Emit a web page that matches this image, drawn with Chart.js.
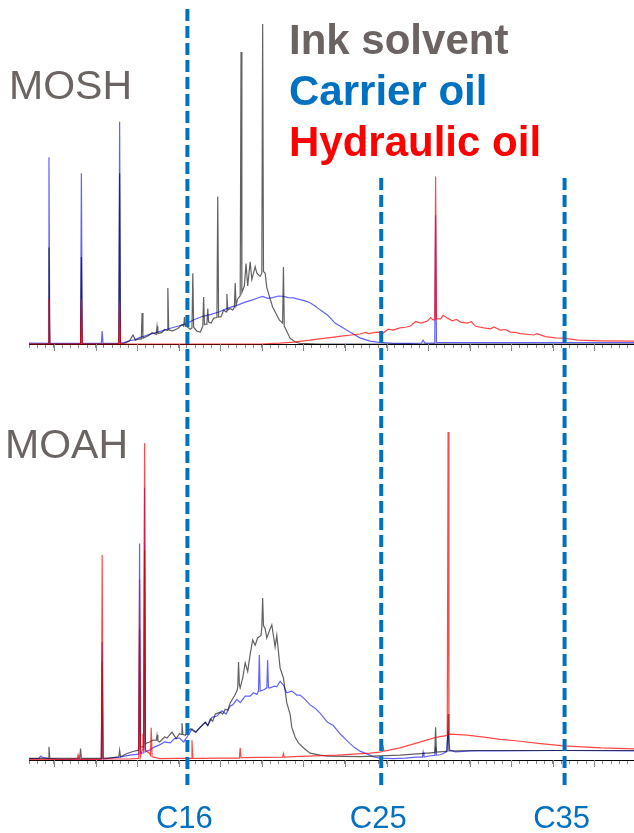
<!DOCTYPE html>
<html>
<head>
<meta charset="utf-8">
<script src="https://cdn.jsdelivr.net/npm/chart.js@4.4.1/dist/chart.umd.min.js"></script>
<style>
  body { margin: 0; background: #fff; }
  #wrap { position: relative; width: 634px; height: 833px; overflow: hidden; font-family: "Liberation Sans", Arial, sans-serif; }
  canvas { position: absolute; left: 0; top: 0; }
  .lbl { position: absolute; white-space: nowrap; line-height: 1; }
  .group { font-size: 41px; color: #6b6462; }
  .legend { font-size: 42px; font-weight: bold; left: 289px; }
  .carbon { font-size: 31px; color: #0070c0; top: 802px; transform: translateX(-50%); }
</style>
</head>
<body>
<div id="wrap">
  <canvas id="moshChart" width="636" height="833"></canvas>
  <canvas id="moahChart" width="636" height="833"></canvas>
  <div class="lbl group" style="left:9px;top:65px">MOSH</div>
  <div class="lbl group" style="left:5px;top:424px">MOAH</div>
  <div id="legend"></div>
  <div id="carbonLabels"></div>
</div>
<script>
// retention time [min] vs relative intensity [%]
const seriesNames = ['Ink solvent', 'Carrier oil', 'Hydraulic oil'];
const legendColors = ['#6b6462', '#0070c0', '#ff0000'];
const lineColors = ['rgba(0,0,0,0.62)', 'rgba(0,0,255,0.62)', 'rgba(255,0,0,0.72)'];

const carbonLabels = ['C16', 'C25', 'C35'];
const carbonTimes = [21.05, 44.36, 66.41];

const moshInk = [
  [2, 0], [4.3, 0], [4.4, 30], [4.5, 0], [8.2, 0], [8.3, 27], [8.4, 0], [12.8, 0], [12.9, 53], [13.0, 0],
  [13.5, 0.2], [14.1, 1.0], [14.5, 2.8], [14.8, 1.2], [15.2, 1.6], [15.5, 1.5], [15.6, 9.6], [15.7, 1.8],
  [16.3, 2.5], [16.8, 3.5], [17.3, 3.0], [17.4, 5.5], [17.5, 3.2], [18.0, 3.6], [18.3, 4.5], [18.6, 4.2],
  [18.7, 17.4], [18.8, 4.5], [19.2, 4.0], [19.9, 4.8], [20.4, 6.0], [20.6, 5.5], [20.7, 8.4], [20.8, 5.6],
  [21.1, 5.2], [21.4, 4.6], [21.6, 5.0], [21.7, 22.0], [21.8, 5.2], [22.2, 4.0], [22.6, 3.7], [22.9, 5.5],
  [23.0, 14.6], [23.1, 6.0], [23.3, 6.2], [23.4, 6.5], [23.5, 11.0], [23.6, 6.8], [23.9, 6.5], [24.2, 8.0],
  [24.6, 8.2], [24.7, 45.7], [24.8, 8.4], [25.1, 8.5], [25.4, 10.5], [25.7, 10.0], [25.8, 15.5], [25.9, 10.5],
  [26.2, 11.0], [26.5, 10.5], [26.7, 11.5], [26.8, 18.9], [26.9, 12.0], [27.1, 14.0], [27.4, 15.0],
  [27.5, 90.7], [27.6, 16.0], [27.9, 18.0], [28.1, 25.0], [28.3, 18.0], [28.6, 25.5], [28.8, 20.0],
  [29.2, 24.0], [29.4, 22.0], [29.8, 21.0], [30.0, 22.0], [30.1, 99.4], [30.2, 22.5], [30.4, 22.0],
  [30.6, 17.5], [31.0, 14.0], [31.3, 11.5], [31.7, 9.5], [32.1, 7.5], [32.5, 6.5], [32.6, 23.9], [32.7, 5.5],
  [32.9, 4.5], [33.4, 1.8], [34.0, 0.6], [34.6, 0.2], [37.0, 0], [75, 0]
];
const moshCarrier = [
  [2, 0.3], [4.3, 0.2], [4.4, 58], [4.5, 0.2], [8.2, 0.2], [8.3, 53], [8.4, 0.2], [10.7, 0.2], [10.8, 4.0],
  [10.9, 0.2], [12.8, 0.2], [12.9, 69], [13.0, 0.3], [13.5, 0.5], [14.1, 1.0], [14.7, 1.3], [15.3, 2.0],
  [16.1, 2.6], [16.9, 3.3], [17.9, 4.0], [19.0, 4.9], [20.0, 5.6], [21.0, 6.4], [21.9, 7.6], [22.9, 8.6],
  [23.9, 9.2], [24.9, 10.0], [26.0, 11.2], [27.0, 12.0], [28.0, 13.0], [28.9, 13.7], [29.5, 14.3],
  [30.1, 14.8], [30.7, 14.2], [31.3, 14.4], [32.0, 14.9], [32.6, 14.8], [33.2, 14.4], [33.8, 14.3],
  [34.6, 13.8], [35.2, 13.4], [35.8, 12.8], [36.4, 11.8], [37.0, 10.6], [37.9, 9.0], [38.8, 6.5],
  [39.8, 5.0], [40.6, 3.7], [41.8, 1.9], [43.0, 0.9], [43.9, 0.6], [45.8, 0.2], [47.9, 0.2], [49.2, 0.3],
  [49.4, 1.2], [49.6, 0.3], [50.8, 0.3], [50.9, 40], [51.0, 0.4], [52.0, 0.4], [75, 0.4]
];
const moshHydraulic = [
  [2, 0], [4.3, 0], [4.4, 14], [4.5, 0], [8.2, 0], [8.3, 14], [8.4, 0], [12.8, 0], [12.9, 13], [13.0, 0],
  [29.8, 0], [32.2, 0.3], [33.8, 0.6], [34.8, 0.9], [35.8, 1.2], [36.9, 1.6], [37.9, 1.9], [38.9, 2.2],
  [39.8, 2.5], [40.8, 2.8], [41.8, 3.1], [42.5, 3.6], [42.8, 3.2], [43.9, 3.7], [44.6, 3.4], [45.2, 4.6],
  [45.8, 4.3], [46.6, 5.0], [47.3, 5.2], [47.9, 5.6], [48.5, 7.0], [49.1, 6.5], [49.9, 7.1], [50.3, 8.2],
  [50.6, 7.5], [50.8, 7.5], [50.9, 52], [51.0, 7.8], [51.5, 7.8], [51.8, 8.9], [52.3, 8.1], [52.9, 7.2],
  [53.4, 7.6], [53.9, 6.8], [54.7, 6.5], [55.2, 6.9], [55.7, 5.5], [56.7, 5.0], [57.5, 4.7], [57.9, 5.3],
  [58.7, 4.3], [59.3, 4.5], [59.9, 3.7], [60.5, 3.6], [61.1, 3.2], [62.7, 2.8], [63.1, 3.2], [64.1, 2.3],
  [65.3, 1.9], [66.3, 1.8], [68.0, 1.2], [70.8, 1.0], [75, 0.9]
];

const moahInk = [
  [2, 0.5], [4.3, 0.5], [4.4, 4.0], [4.5, 0.5], [8.1, 0.5], [8.2, 3.5], [8.3, 0.5], [10.7, 0.5], [10.8, 30],
  [10.9, 0.6], [11.7, 0.6], [12.8, 1.0], [12.9, 3.0], [13.0, 1.0], [13.8, 2.0], [14.5, 2.6], [15.2, 3.0],
  [15.3, 40], [15.4, 4.0], [15.8, 4.0], [15.9, 64], [16.0, 5.0], [16.5, 5.5], [16.9, 6.1], [17.3, 6.0],
  [17.4, 7.6], [17.5, 5.8], [17.7, 5.5], [18.3, 7.0], [18.6, 6.7], [19.2, 8.5], [19.7, 6.5], [20.1, 8.0],
  [20.3, 7.8], [20.4, 11.3], [20.5, 7.8], [20.8, 7.5], [21.4, 9.5], [22.0, 8.5], [22.6, 10.0], [23.2, 11.5],
  [23.5, 10.5], [23.8, 12.5], [24.1, 11.8], [24.4, 14.0], [25.0, 14.6], [25.3, 14.0], [25.6, 15.5],
  [25.9, 15.2], [26.2, 17.4], [26.7, 19.5], [27.0, 21.0], [27.1, 22.0], [27.2, 29.9], [27.3, 23.0],
  [27.4, 22.0], [27.7, 25.0], [28.0, 29.6], [28.3, 27.0], [28.6, 32.3], [28.9, 36.6], [29.2, 35.0],
  [29.5, 37.2], [29.9, 38.0], [30.0, 40.5], [30.1, 49.4], [30.2, 41.0], [30.4, 40.0], [30.6, 37.2],
  [31.0, 40.0], [31.2, 41.2], [31.6, 34.5], [31.8, 38.0], [32.2, 28.0], [32.6, 25.0], [33.0, 17.4],
  [33.4, 14.0], [33.6, 10.0], [34.0, 7.0], [34.4, 5.2], [35.1, 3.5], [35.8, 2.1], [37.0, 1.5], [37.9, 1.2],
  [41.8, 1.0], [46.6, 1.5], [50.3, 2.2], [50.8, 2.3], [50.9, 10], [51.0, 2.4], [52.1, 2.6], [52.3, 2.7],
  [52.4, 14], [52.5, 2.8], [53.3, 2.8], [56.3, 2.9], [75, 2.9]
];
const moahCarrier = [
  [2, 0.4], [3.2, 0.5], [3.4, 1.2], [3.6, 0.8], [4.4, 0.4], [5.7, 0.2], [10.5, 0.3], [10.7, 0.3], [10.8, 36],
  [10.9, 0.3], [11.7, 0.6], [12.9, 0.9], [14.1, 1.5], [15.2, 1.8], [15.3, 66], [15.4, 2.0], [15.8, 2.2],
  [15.9, 83], [16.0, 2.5], [16.5, 3.0], [17.1, 4.0], [17.7, 4.6], [18.3, 5.5], [19.0, 5.2], [19.5, 6.5],
  [20.1, 6.7], [20.6, 5.5], [21.0, 7.0], [21.6, 9.5], [22.1, 8.5], [22.6, 10.0], [23.2, 11.5], [23.5, 10.5],
  [24.0, 13.0], [24.6, 13.4], [25.2, 15.0], [25.7, 14.0], [26.2, 16.5], [26.5, 16.8], [27.0, 18.5],
  [27.4, 17.5], [28.0, 19.5], [28.6, 19.5], [29.0, 20.5], [29.4, 20.0], [29.6, 21.0], [29.7, 32.0],
  [29.8, 21.0], [30.3, 21.5], [30.6, 22.0], [30.7, 30.5], [30.8, 22.0], [31.0, 22.0], [31.5, 22.5],
  [31.8, 22.3], [32.2, 24.0], [32.6, 22.8], [33.0, 20.5], [33.6, 21.0], [34.2, 19.8], [34.6, 19.8],
  [35.2, 18.5], [35.8, 16.8], [36.4, 15.8], [37.0, 14.3], [37.9, 11.5], [38.6, 10.5], [39.4, 8.0],
  [40.0, 6.5], [40.6, 5.0], [41.2, 3.7], [41.8, 2.7], [42.7, 1.8], [43.4, 1.0], [44.2, 0.6], [45.8, 0.4],
  [47.3, 0.6], [48.5, 0.9], [49.3, 0.9], [49.4, 2.4], [49.5, 0.9], [50.3, 1.3], [50.8, 1.4], [50.9, 4.0],
  [51.0, 1.5], [51.5, 1.6], [52.2, 2.5], [52.4, 9.1], [52.6, 3.0], [53.3, 2.5], [55.1, 2.8], [58.7, 2.8],
  [65.9, 2.9], [75, 2.8]
];
const moahHydraulic = [
  [2, 0.1], [5.7, 0.2], [7.8, 0.2], [7.9, 1.5], [8.0, 0.2], [10.5, 0.2], [10.7, 0.2], [10.8, 62.5], [10.9, 0.3],
  [14.1, 0.3], [15.2, 0.5], [15.3, 55], [15.4, 1.0], [15.6, 3.0], [15.7, 8.0], [15.8, 3.0], [15.9, 96.6],
  [16.0, 3.0], [16.5, 2.0], [16.6, 1.5], [16.7, 9.8], [16.8, 1.0], [17.7, 0.4], [20.1, 0.5], [21.5, 0.5],
  [21.6, 6.0], [21.7, 0.5], [22.6, 0.5], [25.0, 0.6], [27.3, 0.6], [27.4, 3.7], [27.5, 0.7], [29.8, 0.8],
  [32.5, 0.9], [32.6, 2.0], [32.7, 0.9], [34.6, 1.1], [39.1, 1.5], [43.0, 2.1], [44.2, 2.4], [44.5, 2.6],
  [44.6, 3.9], [44.7, 2.7], [44.9, 2.8], [46.6, 3.7], [48.7, 5.2], [50.0, 6.2], [51.1, 7.0], [52.3, 7.5],
  [52.4, 100], [52.5, 7.8], [52.7, 7.9], [54.7, 7.6], [56.7, 7.0], [58.7, 6.3], [60.8, 5.8], [63.5, 5.0],
  [66.3, 4.3], [70.8, 3.7], [75, 3.4]
];

// longer tick marks every 5 min
const majorTicks = {
    id: 'majorTicks',
    afterDraw(chart) {
        const x = chart.scales.x;
        const ctx = chart.ctx;
        const base = chart.chartArea.bottom;
        ctx.save();
        ctx.strokeStyle = '#8a8a8a';
        ctx.lineWidth = 1;
        x.ticks.forEach(t => {
            if (t.value % 5 !== 0) return;
            const px = Math.round(x.getPixelForValue(t.value)) + 0.5;
            ctx.beginPath();
            ctx.moveTo(px, base);
            ctx.lineTo(px, base + 7);
            ctx.stroke();
        });
        ctx.restore();
    }
};

// dashed carbon-number markers running through both traces
const carbonLines = {
    id: 'carbonLines',
    afterDatasetsDraw(chart, args, opts) {
        const x = chart.scales.x;
        const ctx = chart.ctx;
        ctx.save();
        ctx.strokeStyle = '#0070c0';
        ctx.lineWidth = 4;
        ctx.setLineDash([12, 5]);
        carbonTimes.forEach((t, i) => {
            const px = x.getPixelForValue(t);
            ctx.beginPath();
            ctx.moveTo(px, opts.tops[i]);
            ctx.lineTo(px, opts.bottom);
            ctx.stroke();
        });
        ctx.restore();
    }
};

function makeDatasets(ink, carrier, hydraulic) {
    // hydraulic oil drawn on top, carrier oil at the back
    return [[hydraulic, 2], [ink, 0], [carrier, 1]].map(([data, idx]) => ({
        label: seriesNames[idx],
        data: data,
        borderColor: lineColors[idx],
        borderWidth: 1.2,
        pointRadius: 0,
        tension: 0,
        clip: false
    }));
}

function makeOptions(padding, extra) {
    return {
        responsive: false,
        devicePixelRatio: 1,
        animation: false,
        events: [],
        layout: { padding: padding },
        plugins: Object.assign({ legend: { display: false }, tooltip: { enabled: false } }, extra || {}),
        scales: {
            x: {
                type: 'linear', min: 2, max: 75,
                ticks: { stepSize: 1, display: false },
                grid: { drawOnChartArea: false, tickLength: 4, color: '#8a8a8a' },
                border: { display: true, color: '#000', width: 1 }
            },
            y: { display: false, min: 0, max: 100 }
        }
    };
}

new Chart(document.getElementById('moshChart'), {
    type: 'line',
    data: { datasets: makeDatasets(moshInk, moshCarrier, moshHydraulic) },
    options: makeOptions({ left: 29, right: 0, top: 22, bottom: 485 }),
    plugins: [majorTicks]
});

const moahChart = new Chart(document.getElementById('moahChart'), {
    type: 'line',
    data: { datasets: makeDatasets(moahInk, moahCarrier, moahHydraulic) },
    options: makeOptions({ left: 29, right: 0, top: 432, bottom: 69 }, { carbonLines: { tops: [9, 178, 178], bottom: 785 } }),
    plugins: [carbonLines, majorTicks]
});

const legendEl = document.getElementById('legend');
seriesNames.forEach((name, i) => {
    const d = document.createElement('div');
    d.className = 'lbl legend';
    d.style.top = (19 + i * 51) + 'px';
    d.style.color = legendColors[i];
    d.textContent = name;
    legendEl.appendChild(d);
});

const labelsEl = document.getElementById('carbonLabels');
carbonLabels.forEach((name, i) => {
    const d = document.createElement('div');
    d.className = 'lbl carbon';
    d.style.left = (moahChart.scales.x.getPixelForValue(carbonTimes[i]) - 3) + 'px';
    d.textContent = name;
    labelsEl.appendChild(d);
});
</script>
</body>
</html>
